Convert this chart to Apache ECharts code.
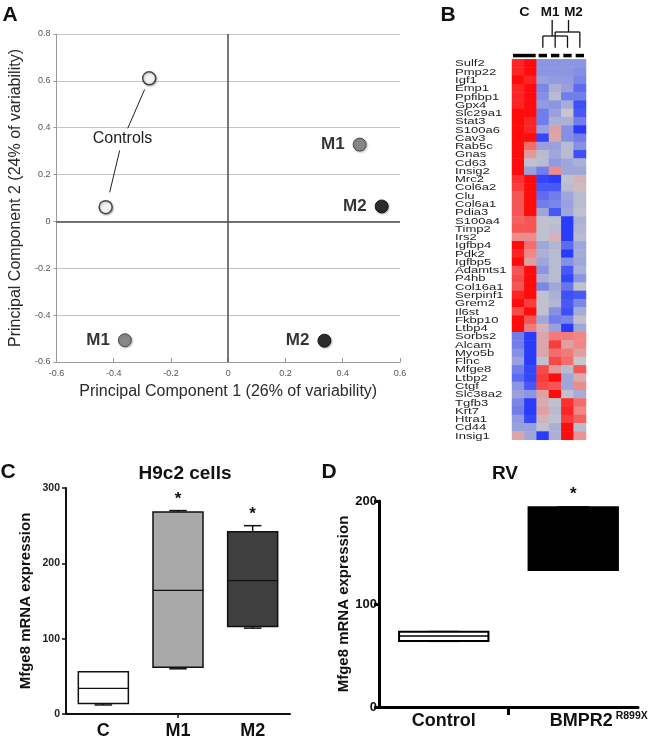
<!DOCTYPE html>
<html>
<head>
<meta charset="utf-8">
<script src="https://cdn.jsdelivr.net/npm/echarts@6.0.0/dist/echarts.min.js"></script>
<style>
  html, body { margin: 0; padding: 0; background: #fff; }
  #chart { width: 655px; height: 746px; }
</style>
</head>
<body>
<div id="chart"></div>
<script>
// ---- data ----
// A: PCA scores [PC1, PC2]
var pcaControls = [[-0.276, 0.611], [-0.428, 0.061]];
var pcaM1 = [[0.459, 0.328], [-0.361, -0.507]];
var pcaM2 = [[0.536, 0.064], [0.336, -0.509]];
var pcaTicks = [-0.6, -0.4, -0.2, 0, 0.2, 0.4, 0.6, 0.8];

// B: heatmap (row z-scores, -1 blue .. 1 red)
var heatColumns = ['C 1', 'C 2', 'M1 1', 'M2 1', 'M1 2', 'M2 2'];
var geneNames = ['Sulf2', 'Pmp22', 'Igf1', 'Emp1', 'Ppfibp1', 'Gpx4', 'Slc29a1', 'Stat3',
  'S100a6', 'Cav3', 'Rab5c', 'Gnas', 'Cd63', 'Insig2', 'Mrc2', 'Col6a2', 'Clu', 'Col6a1',
  'Pdia3', 'S100a4', 'Timp2', 'Irs2', 'Igfbp4', 'Pdk2', 'Igfbp5', 'Adamts1', 'P4hb',
  'Col16a1', 'Serpinf1', 'Grem2', 'Il6st', 'Fkbp10', 'Ltbp4', 'Sorbs2', 'Alcam', 'Myo5b',
  'Flnc', 'Mfge8', 'Ltbp2', 'Ctgf', 'Slc38a2', 'Tgfb3', 'Krt7', 'Htra1', 'Cd44', 'Insig1'];
var heatValues = [
  [0.9, 1.0, -0.45, -0.45, -0.45, -0.45],
  [0.9, 1.0, -0.45, -0.45, -0.45, -0.5],
  [1.0, 0.9, -0.35, -0.4, -0.4, -0.55],
  [0.9, 1.0, -0.55, -0.2, -0.35, -0.7],
  [0.9, 1.0, -0.5, -0.1, -0.6, -0.6],
  [0.9, 1.0, -0.4, -0.45, -0.25, -0.85],
  [1.0, 1.0, -0.6, -0.35, 0.0, -0.8],
  [1.0, 0.9, -0.6, -0.2, -0.2, -0.6],
  [1.0, 0.9, -0.35, 0.3, -0.5, -0.95],
  [1.0, 1.0, -0.9, 0.25, -0.5, -0.6],
  [1.0, 0.6, -0.35, -0.35, -0.1, -0.5],
  [1.0, 0.35, -0.1, -0.3, -0.1, -0.85],
  [1.0, -0.05, -0.1, -0.4, -0.3, -0.2],
  [1.0, -0.35, -0.6, 0.45, -0.3, -0.3],
  [0.85, 1.0, -0.9, -0.95, -0.05, 0.15],
  [0.8, 1.0, -0.8, -0.8, -0.1, 0.1],
  [0.7, 1.0, -0.7, -0.6, -0.3, -0.1],
  [0.7, 1.0, -0.6, -0.55, -0.35, -0.1],
  [0.7, 1.0, -0.3, -0.8, -0.3, -0.05],
  [0.65, 0.7, -0.05, -0.05, -0.95, -0.2],
  [0.7, 0.7, -0.05, -0.1, -0.95, -0.15],
  [0.45, 0.45, -0.05, 0.15, -0.95, -0.1],
  [1.0, 0.6, -0.3, -0.15, -0.7, -0.3],
  [0.9, 0.5, -0.2, -0.1, -0.95, -0.25],
  [1.0, 0.3, -0.3, -0.1, -0.5, -0.3],
  [0.7, 1.0, -0.45, -0.1, -0.8, -0.2],
  [0.75, 1.0, -0.2, -0.1, -0.9, -0.45],
  [0.7, 1.0, -0.55, -0.3, -0.65, -0.05],
  [0.9, 1.0, -0.05, -0.2, -0.85, -0.8],
  [1.0, 0.8, -0.05, -0.15, -0.8, -0.55],
  [0.75, 1.0, -0.05, -0.5, -0.85, -0.25],
  [1.0, 0.7, -0.3, -0.6, -0.55, -0.05],
  [1.0, 0.55, 0.15, -0.35, -0.95, -0.3],
  [-0.6, -0.95, 0.25, 0.55, 0.55, 0.5],
  [-0.6, -0.95, 0.25, 0.8, 0.3, 0.5],
  [-0.5, -0.95, 0.25, 0.6, 0.55, 0.3],
  [-0.35, -0.95, -0.05, 0.75, 0.6, 0.0],
  [-0.6, -0.9, 0.75, 0.35, -0.1, 0.7],
  [-0.7, -0.9, 0.8, 1.0, -0.3, 0.2],
  [-0.45, -0.8, 0.75, 0.7, -0.3, 0.45],
  [-0.35, -0.45, 0.3, 1.0, -0.05, -0.25],
  [-0.55, -0.95, 0.2, -0.05, 0.85, 0.6],
  [-0.6, -0.95, 0.3, -0.1, 0.9, 0.5],
  [-0.4, -0.9, 0.15, -0.05, 0.8, 0.65],
  [-0.35, -0.35, -0.05, -0.2, 1.0, -0.1],
  [0.25, -0.3, -0.95, -0.2, 1.0, 0.4]
];

// C: H9c2 cells, box stats [min, q1, median, q3, max]
var cellGroups = ['C', 'M1', 'M2'];
var cellStats = [[12, 14, 34, 56, 56], [60, 62, 164, 268, 270], [114, 116, 177, 242, 250]];
var cellStars = [false, true, true];
var cellTicks = [0, 100, 200, 300];

// D: RV
var rvGroups = ['Control', 'BMPR2 R899X'];
var rvStats = [[64, 64, 69, 73, 73], [133, 133, 162, 194, 194]];
var rvStars = [false, true];
var rvTicks = [0, 100, 200];

// ---- chart ----
var FONT = '"Liberation Sans", Arial, Helvetica, sans-serif';
var chart = echarts.init(document.getElementById('chart'));

var heatData = [];
heatValues.forEach(function (row, r) {
  row.forEach(function (v, c) { heatData.push([c, r, v]); });
});

function boxItem(opts) {
  return function (params, api) {
    var i = api.value(0);
    var base = api.coord([i, 0]);
    var x = base[0];
    var yMin = api.coord([i, api.value(1)])[1];
    var yQ1 = api.coord([i, api.value(2)])[1];
    var yMed = api.coord([i, api.value(3)])[1];
    var yQ3 = api.coord([i, api.value(4)])[1];
    var yMax = api.coord([i, api.value(5)])[1];
    var band = api.size([1, 0])[0];
    var bw = band * opts.width;
    var cw = bw * opts.cap;
    var col = opts.stroke;
    var ls = { stroke: col, lineWidth: opts.lineWidth };
    var kids = [
      { type: 'line', shape: { x1: x, y1: yQ3, x2: x, y2: yMax }, style: ls },
      { type: 'line', shape: { x1: x - cw / 2, y1: yMax, x2: x + cw / 2, y2: yMax }, style: ls },
      { type: 'line', shape: { x1: x, y1: yQ1, x2: x, y2: yMin }, style: ls },
      { type: 'line', shape: { x1: x - cw / 2, y1: yMin, x2: x + cw / 2, y2: yMin }, style: ls },
      { type: 'rect', shape: { x: x - bw / 2, y: yQ3, width: bw, height: yQ1 - yQ3 },
        style: { fill: opts.fills[params.dataIndex], stroke: col, lineWidth: opts.lineWidth } },
      { type: 'line', shape: { x1: x - bw / 2, y1: yMed, x2: x + bw / 2, y2: yMed },
        style: { stroke: col, lineWidth: opts.medianWidth } }
    ];
    if (opts.stars[params.dataIndex]) {
      kids.push({ type: 'text', x: x, y: yMax - opts.starGap,
        style: { text: '*', font: 'bold 17px ' + FONT, fill: '#111', align: 'center', verticalAlign: 'middle' } });
    }
    // separator tick between groups (only on the left edge of later groups)
    if (opts.sepTick && params.dataIndex > 0) {
      kids.push({ type: 'line', shape: { x1: x - band / 2, y1: base[1], x2: x - band / 2, y2: base[1] + opts.sepTick },
        style: { stroke: col, lineWidth: 3 } });
    }
    return { type: 'group', children: kids };
  };
}

var option = {
  animation: false,
  textStyle: { fontFamily: FONT },
  grid: [
    { left: 55, top: 34, width: 345, height: 328 },
    { left: 512, top: 59.3, width: 74, height: 380.5 },
    { left: 66, top: 488, width: 224, height: 226 },
    { left: 379, top: 501, width: 259, height: 206 }
  ],
  xAxis: [
    { gridIndex: 0, type: 'value', min: pcaTicks[0], max: 0.6, interval: 0.2,
      name: 'Principal Component 1 (26% of variability)', nameLocation: 'middle', nameGap: 22,
      nameTextStyle: { fontSize: 16, color: '#2a2a2a' },
      axisLine: { onZero: false, lineStyle: { color: '#9a9a9a', width: 1 } },
      axisTick: { inside: true, length: 4, lineStyle: { color: '#9a9a9a' } },
      axisLabel: { fontSize: 9, color: '#555', margin: 7, formatter: function (v) { return String(+v.toFixed(1)); } },
      splitLine: { show: false } },
    { gridIndex: 1, type: 'category', data: heatColumns, show: false },
    { gridIndex: 2, type: 'category', data: cellGroups,
      axisLine: { lineStyle: { color: '#111', width: 2 } },
      axisTick: { show: true, alignWithLabel: true, length: 4, interval: function (i) { return i === 1; },
        lineStyle: { color: '#111', width: 1.5 } },
      axisLabel: { fontSize: 18, fontWeight: 'bold', color: '#111', margin: 8 } },
    { gridIndex: 3, type: 'category', data: rvGroups,
      axisLine: { lineStyle: { color: '#000', width: 3 } },
      axisTick: { show: false },
      axisLabel: { margin: 4, color: '#111', interval: 0, hideOverlap: false,
        formatter: function (v) { return v === 'Control' ? '{a|Control}' : '{c|BMPR2}{b|R899X}'; },
        rich: {
          a: { fontSize: 18, fontWeight: 'bold', color: '#111', lineHeight: 20 },
          c: { fontSize: 18, fontWeight: 'bold', color: '#111', lineHeight: 20, padding: [0, 3, 0, 51] },
          b: { fontSize: 10.5, fontWeight: 'bold', color: '#111', lineHeight: 20, verticalAlign: 'top' }
        } } }
  ],
  yAxis: [
    { gridIndex: 0, type: 'value', min: pcaTicks[0], max: pcaTicks[pcaTicks.length - 1], interval: 0.2,
      name: 'Principal Component 2 (24% of variability)', nameLocation: 'middle', nameGap: 24,
      nameTextStyle: { fontSize: 16, color: '#2a2a2a' },
      axisLine: { show: true, onZero: false, lineStyle: { color: '#9a9a9a', width: 1 } },
      axisTick: { show: true, length: 3, lineStyle: { color: '#9a9a9a' } },
      axisLabel: { fontSize: 9, color: '#555', margin: 6, formatter: function (v) { return String(+v.toFixed(1)); } },
      splitLine: { show: true, lineStyle: { color: '#c4c4c4', width: 1 } } },
    { gridIndex: 1, type: 'category', data: geneNames, inverse: true, show: false },
    { gridIndex: 2, type: 'value', min: cellTicks[0], max: cellTicks[cellTicks.length - 1], interval: 100,
      name: 'Mfge8 mRNA expression', nameLocation: 'middle', nameGap: 33,
      nameTextStyle: { fontSize: 15, fontWeight: 'bold', color: '#111' },
      axisLine: { show: true, lineStyle: { color: '#111', width: 2 } },
      axisTick: { show: true, length: 4, lineStyle: { color: '#111', width: 1.5 } },
      axisLabel: { fontSize: 10.5, fontWeight: 'bold', color: '#222', margin: 6 },
      splitLine: { show: false } },
    { gridIndex: 3, type: 'value', min: rvTicks[0], max: rvTicks[rvTicks.length - 1], interval: 100,
      name: 'Mfge8 mRNA expression', nameLocation: 'middle', nameGap: 28,
      nameTextStyle: { fontSize: 15, fontWeight: 'bold', color: '#111' },
      axisLine: { show: true, lineStyle: { color: '#000', width: 3 } },
      axisTick: { show: true, length: 5, lineStyle: { color: '#000', width: 3 } },
      axisLabel: { fontSize: 13, fontWeight: 'bold', color: '#111', margin: 2 },
      splitLine: { show: false } }
  ],
  visualMap: {
    show: false, type: 'continuous', min: -1, max: 1, seriesIndex: 3,
    inRange: { color: ['#1f33ff', '#8590e4', '#c6c6cc', '#f08686', '#ff0b0b'] }
  },
  series: [
    { type: 'scatter', xAxisIndex: 0, yAxisIndex: 0, data: pcaControls, symbolSize: 13,
      itemStyle: { color: '#fff', borderColor: '#222', borderWidth: 1.5, shadowBlur: 2, shadowColor: 'rgba(0,0,0,0.3)', shadowOffsetX: 1, shadowOffsetY: 1 },
      markLine: { silent: true, symbol: 'none', label: { show: false },
        data: [
          { xAxis: 0, lineStyle: { color: '#4d4d4d', width: 1.5, type: 'solid' } },
          { yAxis: 0, lineStyle: { color: '#4d4d4d', width: 1.5, type: 'solid' } },
          [{ coord: [-0.292, 0.563], lineStyle: { color: '#222', width: 1, type: 'solid' } }, { coord: [-0.351, 0.397] }],
          [{ coord: [-0.379, 0.303], lineStyle: { color: '#222', width: 1, type: 'solid' } }, { coord: [-0.414, 0.124] }]
        ] },
      markPoint: { silent: true, symbol: 'circle', symbolSize: 0,
        label: { show: true, position: 'inside', formatter: 'Controls', fontSize: 16, color: '#222' },
        data: [{ coord: [-0.369, 0.354] }] } },
    { type: 'scatter', xAxisIndex: 0, yAxisIndex: 0, data: pcaM1, symbolSize: 13,
      itemStyle: { color: '#787878', borderColor: '#333', borderWidth: 1, shadowBlur: 2, shadowColor: 'rgba(0,0,0,0.3)', shadowOffsetX: 1, shadowOffsetY: 1 },
      label: { show: true, position: 'left', distance: 8, formatter: 'M1', fontSize: 17, fontWeight: 'bold', color: '#000' } },
    { type: 'scatter', xAxisIndex: 0, yAxisIndex: 0, data: pcaM2, symbolSize: 13,
      itemStyle: { color: '#050505', borderColor: '#000', borderWidth: 1, shadowBlur: 2, shadowColor: 'rgba(0,0,0,0.3)', shadowOffsetX: 1, shadowOffsetY: 1 },
      label: { show: true, position: 'left', distance: 8, formatter: 'M2', fontSize: 17, fontWeight: 'bold', color: '#000' } },
    { type: 'heatmap', xAxisIndex: 1, yAxisIndex: 1, data: heatData, itemStyle: { borderWidth: 0 },
      emphasis: { disabled: true } },
    { type: 'custom', xAxisIndex: 1, yAxisIndex: 1, silent: true, clip: false,
      data: geneNames.map(function (g, i) { return [0, i]; }),
      renderItem: function (params, api) {
        var p = api.coord([0, api.value(1)]);
        var cw = api.size([1, 1])[0];
        return { type: 'text', x: p[0] - cw / 2 - 57, y: p[1] + 0.5, scaleX: 1.45,
          style: { text: geneNames[params.dataIndex], font: '9px ' + FONT, fill: '#1e1e1e', align: 'left', verticalAlign: 'middle' } };
      } },
    { type: 'custom', xAxisIndex: 2, yAxisIndex: 2, silent: true, clip: false,
      encode: { x: 0, y: [1, 2, 3, 4, 5] },
      data: cellStats.map(function (s, i) { return [i].concat(s); }),
      renderItem: boxItem({ width: 0.67, cap: 0.35, lineWidth: 1.5, medianWidth: 1.3, stroke: '#111',
        fills: ['#ffffff', '#a9a9a9', '#3f3f3f'], stars: cellStars, starGap: 11 }) },
    { type: 'custom', xAxisIndex: 3, yAxisIndex: 3, silent: true, clip: false,
      encode: { x: 0, y: [1, 2, 3, 4, 5] },
      data: rvStats.map(function (s, i) { return [i].concat(s); }),
      renderItem: boxItem({ width: 0.69, cap: 0.35, lineWidth: 2, medianWidth: 1.5, stroke: '#000',
        fills: ['#ffffff', '#000000'], stars: rvStars, starGap: 13, sepTick: 8 }) }
  ]
};
chart.setOption(option);

// annotations around the heatmap, placed from the heatmap's own axes
function cell(c, r) { return chart.convertToPixel({ xAxisIndex: 1, yAxisIndex: 1 }, [heatColumns[c], geneNames[r]]); }
var xs = heatColumns.map(function (c, i) { return cell(i, 0)[0]; });
var cellW = xs[1] - xs[0];
var heatTop = cell(0, 0)[1] - (cell(0, 1)[1] - cell(0, 0)[1]) / 2;
var barY = heatTop - 5.5;
var g = [];
function txt(t, x, y, size, extra) {
  var o = { type: 'text', x: x, y: y, style: { text: t, font: 'bold ' + size + 'px ' + FONT, fill: '#111', align: 'center', verticalAlign: 'middle' } };
  for (var k in extra) o[k] = extra[k];
  return o;
}
function seg(x1, y1, x2, y2) {
  return { type: 'line', shape: { x1: x1, y1: y1, x2: x2, y2: y2 }, style: { stroke: '#111', lineWidth: 1.3 } };
}
// group bars
g.push({ type: 'rect', shape: { x: xs[0] - cellW / 2 + 1, y: barY, width: cellW * 2 - 2, height: 3.5 }, style: { fill: '#000' } });
for (var i = 2; i < 6; i++) {
  g.push({ type: 'rect', shape: { x: xs[i] - cellW / 2 + 2, y: barY, width: cellW - 4, height: 3.5 }, style: { fill: '#000' } });
}
// dendrogram
var legBottom = barY - 6;
var m1Mid = (xs[2] + xs[4]) / 2, m2Mid = (xs[3] + xs[5]) / 2;
g.push(seg(xs[2], legBottom, xs[2], 36), seg(xs[4], legBottom, xs[4], 36), seg(xs[2], 36, xs[4], 36), seg(m1Mid - 3, 36, m1Mid - 3, 20));
g.push(seg(xs[3], legBottom, xs[3], 32), seg(xs[5], legBottom, xs[5], 32), seg(xs[3], 32, xs[5], 32), seg(m2Mid + 1, 32, m2Mid + 1, 20));
g.push(txt('C', (xs[0] + xs[1]) / 2, 13, 12, { scaleX: 1.2 }));
g.push(txt('M1', m1Mid - 5, 13, 12, { scaleX: 1.12 }));
g.push(txt('M2', m2Mid + 6, 13, 12, { scaleX: 1.12 }));
// panel letters and titles
g.push(txt('A', 10, 15, 21));
g.push(txt('B', 448, 15, 21));
g.push(txt('C', 8, 472, 21));
g.push(txt('D', 329, 472, 21));
g.push(txt('H9c2 cells', 185, 474, 19));
g.push(txt('RV', 505, 474, 19));
chart.setOption({ graphic: { elements: g } });
</script>
</body>
</html>
